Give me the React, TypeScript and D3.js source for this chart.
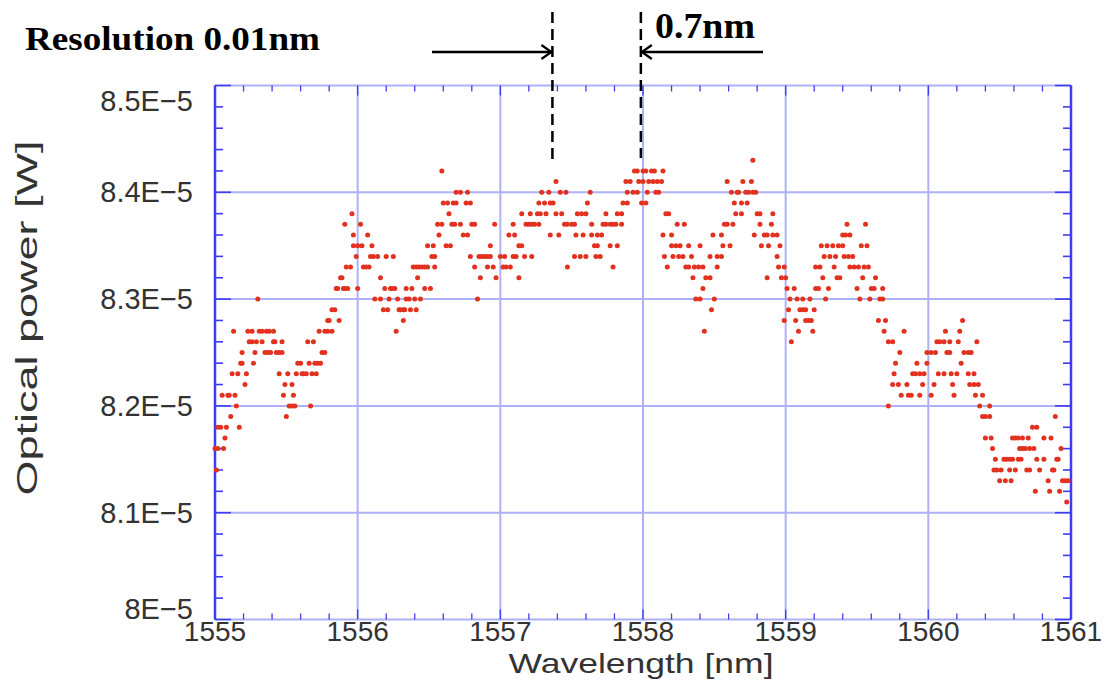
import React from "react";
import * as d3 from "d3";

// ---- data ----
const wavelengthStart = 1555; // nm, sample index 0
const wavelengthStep = 0.01; // nm per sample (resolution)
// optical power levels in units of 1E-5 W
const powerValues = [
  8.43, 8.42, 8.41, 8.4, 8.39, 8.38, 8.37, 8.36, 8.35, 8.34, 8.33, 8.32, 8.31,
  8.3, 8.29, 8.28, 8.27, 8.26, 8.25, 8.24, 8.23, 8.22, 8.21, 8.2, 8.19, 8.18,
  8.17, 8.16, 8.15, 8.14, 8.13, 8.12, 8.11,
];
// sample indices (wavelength = 1555 + i*0.01) measured at each power level
const sampleIndices: number[][] = [
  [377],
  [159, 294, 296, 300, 302, 306, 308, 314],
  [239, 288, 291, 297, 300, 304, 307, 310, 313, 359, 370, 376],
  [169, 172, 177, 229, 234, 242, 246, 263, 289, 293, 296, 303, 309, 311, 362, 366, 367, 372, 374, 377, 379],
  [160, 163, 167, 169, 176, 179, 227, 231, 235, 237, 261, 286, 289, 299, 302, 364, 369, 373],
  [96, 164, 215, 221, 226, 228, 232, 239, 243, 254, 257, 260, 274, 282, 285, 316, 318, 365, 369, 380, 382, 391],
  [91, 102, 156, 159, 166, 168, 172, 180, 182, 196, 209, 218, 220, 222, 224, 227, 245, 247, 250, 252, 264, 272, 274, 277, 279, 281, 285, 324, 329, 357, 359, 363, 382, 390, 443, 456],
  [97, 107, 157, 174, 177, 206, 210, 235, 241, 253, 258, 264, 268, 271, 314, 320, 349, 355, 378, 385, 387, 391, 394, 440, 442, 445],
  [97, 100, 103, 110, 149, 153, 162, 165, 193, 213, 215, 266, 268, 277, 282, 320, 323, 326, 332, 340, 356, 361, 383, 388, 396, 425, 429, 433, 437, 440, 453, 457],
  [99, 109, 111, 114, 120, 125, 152, 154, 179, 185, 187, 189, 191, 193, 200, 203, 209, 211, 217, 222, 252, 256, 260, 267, 270, 315, 321, 325, 328, 334, 347, 352, 355, 394, 427, 431, 435, 441, 444, 447],
  [92, 95, 104, 106, 108, 139, 141, 143, 145, 147, 149, 154, 182, 191, 195, 202, 204, 207, 247, 279, 317, 330, 332, 336, 339, 342, 352, 395, 399, 421, 424, 434, 445, 448, 451, 455, 458],
  [88, 89, 116, 142, 186, 197, 213, 335, 344, 347, 387, 397, 400, 426, 436, 438, 454, 463],
  [85, 86, 90, 91, 93, 100, 119, 123, 124, 126, 134, 138, 147, 151, 342, 401, 406, 421, 423, 430, 450, 460, 462, 468],
  [30, 112, 116, 122, 128, 134, 136, 140, 144, 184, 337, 340, 350, 403, 408, 412, 417, 428, 452, 459, 466, 468],
  [82, 84, 118, 121, 129, 130, 132, 133, 137, 141, 348, 402, 410, 412, 414, 420],
  [79, 80, 87, 132, 399, 407, 414, 416, 418, 465, 470, 524],
  [13, 23, 26, 31, 33, 36, 38, 41, 73, 77, 79, 82, 127, 343, 409, 419, 469, 483, 512, 522],
  [24, 26, 29, 33, 41, 42, 47, 65, 69, 404, 472, 475, 506, 508, 511, 515, 521, 534],
  [19, 28, 35, 37, 39, 43, 45, 47, 75, 77, 480, 499, 502, 505, 513, 515, 525, 528, 530],
  [18, 19, 27, 58, 60, 66, 70, 72, 74, 477, 492, 499, 523],
  [12, 16, 22, 45, 51, 57, 61, 62, 64, 68, 71, 476, 489, 491, 494, 497, 507, 511, 516, 520, 528, 532],
  [21, 49, 54, 475, 479, 485, 496, 504, 517, 529, 532, 535],
  [5, 9, 10, 14, 48, 55, 481, 486, 488, 494, 502, 518, 533, 538],
  [15, 52, 54, 56, 67, 472, 536, 543],
  [11, 50, 538, 540, 543, 589],
  [2, 4, 8, 17, 573, 576],
  [7, 540, 544, 559, 561, 563, 566, 570, 581, 586],
  [0, 2, 6, 545, 564, 566, 568, 571, 574, 593],
  [547, 553, 555, 557, 559, 563, 565, 576, 581, 590, 591],
  [1, 546, 548, 551, 557, 561, 569, 571, 578, 587, 588],
  [550, 554, 558, 584, 594, 596, 598],
  [575, 585, 592],
  [597],
];
const xTicks = [1555, 1556, 1557, 1558, 1559, 1560, 1561];
const yTicks = [8.0, 8.1, 8.2, 8.3, 8.4, 8.5];
const yTickLabels = ["8E\u22125", "8.1E\u22125", "8.2E\u22125", "8.3E\u22125", "8.4E\u22125", "8.5E\u22125"];
const markerLeft = 1557.365; // nm
const markerRight = 1557.985; // nm
const resolutionText = "Resolution 0.01nm";
const gapText = "0.7nm";

// ---- layout ----
const W = 1107;
const H = 690;
const L = 215, R = 1071, T = 85.5, B = 619.5;

export default function App() {
  const x = d3.scaleLinear().domain([1555, 1561]).range([L, R]);
  const y = d3.scaleLinear().domain([8.0, 8.5]).range([B, T]);

  const minorX = d3.range(0, 31).map((k) => 1555 + k * 0.2);
  const minorY = d3.range(0, 26).map((k) => 8.0 + k * 0.02);

  const axisBlue = "#3c3cf2";
  const gridBlue = "#aeb1f7";
  const dotRed = "#e2321f";

  const points: { wl: number; p: number }[] = [];
  sampleIndices.forEach((row, r) => {
    row.forEach((i) => points.push({ wl: wavelengthStart + i * wavelengthStep, p: powerValues[r] }));
  });

  const xl = x(markerLeft);
  const xr = x(markerRight);
  const sans = "'Liberation Sans', Arial, sans-serif";
  const serif = "'Liberation Serif', 'Times New Roman', serif";

  return (
    <svg width={W} height={H} style={{ position: "absolute", left: 0, top: 0, background: "#fff" }}>
      {/* grid */}
      {xTicks.slice(1, -1).map((t) => (
        <line key={"gx" + t} x1={x(t)} x2={x(t)} y1={T} y2={B} stroke={gridBlue} strokeWidth={2} />
      ))}
      {yTicks.slice(1, -1).map((t) => (
        <line key={"gy" + t} x1={L} x2={R} y1={y(t)} y2={y(t)} stroke={gridBlue} strokeWidth={2} />
      ))}
      {/* top/bottom frame */}
      <line x1={L} x2={R} y1={T} y2={T} stroke={gridBlue} strokeWidth={2} />
      <line x1={L} x2={R} y1={B} y2={B} stroke={gridBlue} strokeWidth={2} />
      {/* minor ticks x */}
      {minorX.map((t, k) => {
        const len = k % 5 === 0 ? 10 : 6;
        return (
          <g key={"mx" + k}>
            <line x1={x(t)} x2={x(t)} y1={T} y2={T + len} stroke={axisBlue} strokeWidth={1.3} />
            <line x1={x(t)} x2={x(t)} y1={B} y2={B - len} stroke={axisBlue} strokeWidth={1.3} />
          </g>
        );
      })}
      {/* minor ticks y */}
      {minorY.map((t, k) => {
        const len = k % 5 === 0 ? 16 : 8;
        return (
          <g key={"my" + k}>
            <line x1={L} x2={L + len} y1={y(t)} y2={y(t)} stroke={axisBlue} strokeWidth={1.6} />
            <line x1={R} x2={R - len} y1={y(t)} y2={y(t)} stroke={axisBlue} strokeWidth={1.6} />
          </g>
        );
      })}
      {/* left/right axis */}
      <line x1={L} x2={L} y1={T} y2={B} stroke={axisBlue} strokeWidth={2.5} />
      <line x1={R} x2={R} y1={T} y2={B} stroke={axisBlue} strokeWidth={2.5} />

      {/* data */}
      {points.map((d, k) => (
        <circle key={"pt" + k} cx={x(d.wl)} cy={y(d.p)} r={2.5} fill={dotRed} />
      ))}

      {/* tick labels */}
      {yTicks.map((t, k) => {
        const cy = Math.min(Math.max(y(t), T + 15), B - 11);
        return (
          <text key={"yl" + t} x={193} y={cy + 10} textAnchor="end" fontFamily={sans} fontSize={29} fill="#333">
            {yTickLabels[k]}
          </text>
        );
      })}
      {xTicks.map((t) => (
        <text key={"xl" + t} x={x(t)} y={641} textAnchor="middle" fontFamily={sans} fontSize={28} fill="#333">
          {String(t)}
        </text>
      ))}
      {/* axis titles */}
      <text x={641} y={673} textAnchor="middle" fontFamily={sans} fontSize={28} fill="#333" textLength={265} lengthAdjust="spacingAndGlyphs">
        Wavelength [nm]
      </text>
      <text
        transform={`translate(37,318) rotate(-90)`}
        textAnchor="middle"
        fontFamily={sans}
        fontSize={30}
        fill="#333"
        textLength={355}
        lengthAdjust="spacingAndGlyphs"
      >
        Optical power [W]
      </text>

      {/* annotations */}
      <line x1={xl} x2={xl} y1={12} y2={163} stroke="#000" strokeWidth={2.5} strokeDasharray="11,6" />
      <line x1={xr} x2={xr} y1={12} y2={158} stroke="#000" strokeWidth={2.5} strokeDasharray="11,6" />
      <line x1={432} x2={xl - 1} y1={52} y2={52} stroke="#000" strokeWidth={2.5} />
      <polyline points={`${xl - 11},45 ${xl - 1},52 ${xl - 11},59`} fill="none" stroke="#000" strokeWidth={2.2} />
      <line x1={763} x2={xr + 1} y1={52} y2={52} stroke="#000" strokeWidth={2.5} />
      <polyline points={`${xr + 11},45 ${xr + 1},52 ${xr + 11},59`} fill="none" stroke="#000" strokeWidth={2.2} />
      <text x={25} y={50} fontFamily={serif} fontWeight="bold" fontSize={33} fill="#000" textLength={295} lengthAdjust="spacingAndGlyphs">
        {resolutionText}
      </text>
      <text x={655} y={38} fontFamily={serif} fontWeight="bold" fontSize={35} fill="#000" textLength={100} lengthAdjust="spacingAndGlyphs">
        {gapText}
      </text>
    </svg>
  );
}
